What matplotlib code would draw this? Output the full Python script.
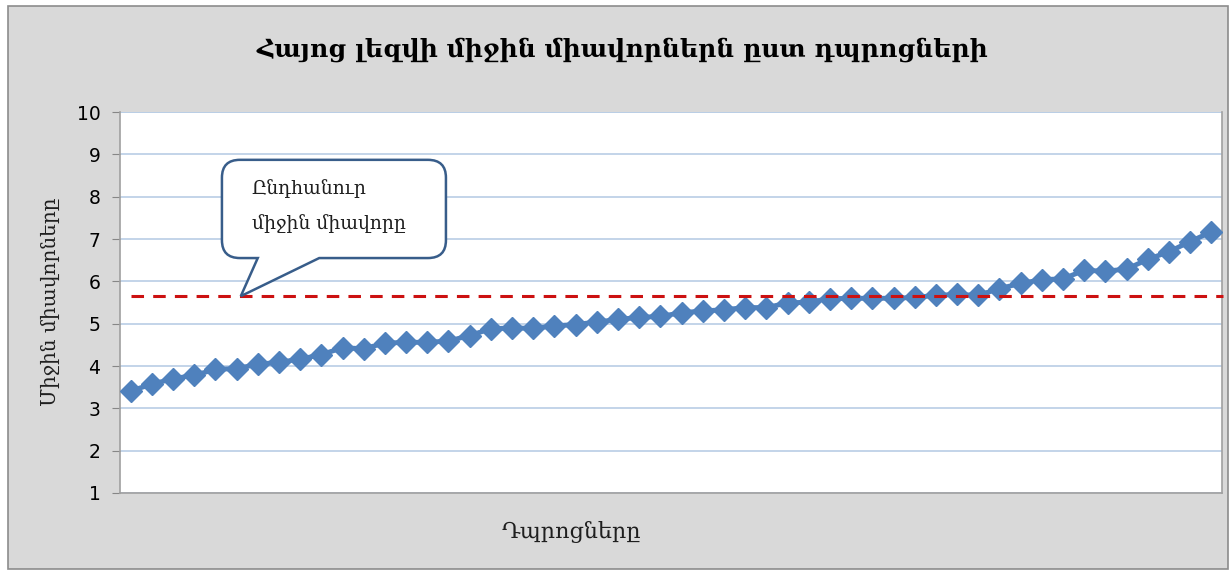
import numpy as np
import matplotlib
matplotlib.use("Agg")
import matplotlib.pyplot as plt
from matplotlib.path import Path
from matplotlib.patches import PathPatch, Rectangle

# school averages, sorted ascending
scores = [3.41, 3.57, 3.70, 3.78, 3.92, 3.94, 4.04, 4.09, 4.16, 4.27,
          4.43, 4.41, 4.54, 4.56, 4.56, 4.59, 4.72, 4.88, 4.90, 4.89,
          4.95, 4.98, 5.04, 5.10, 5.15, 5.17, 5.26, 5.30, 5.33, 5.38,
          5.38, 5.49, 5.51, 5.59, 5.60, 5.60, 5.60, 5.62, 5.67, 5.69,
          5.67, 5.83, 5.95, 6.04, 6.06, 6.26, 6.24, 6.29, 6.52, 6.70,
          6.94, 7.17]
overall_mean = 5.65
y_ticks = [1, 2, 3, 4, 5, 6, 7, 8, 9, 10]

title = "Հայոց լեզվի միջին միավորներն ըստ դպրոցների"
ylabel = "Միջին միավորները"
xlabel = "Դպրոցները"
callout = "Ընդհանուր\nմիջին միավորը"

plt.rcParams['font.family'] = ['DejaVu Serif', 'DejaVu Sans']

W, H = 1230, 574
fig = plt.figure(figsize=(W / 100, H / 100), dpi=100, facecolor="white")

# chart area background + frame
fig.patches.append(Rectangle((8 / W, 1 - 569 / H), 1220 / W, 563 / H,
                             transform=fig.transFigure, facecolor="#D9D9D9",
                             edgecolor="#8C8C8C", lw=1.2, zorder=-10))

ax = fig.add_axes([120 / W, 1 - 493 / H, 1102 / W, 381 / H])
ax.set_facecolor("white")

x = np.arange(len(scores))
ax.set_xlim(-0.5, len(scores) - 0.5)
ax.set_ylim(1, 10)
ax.set_yticks(y_ticks)
ax.set_xticks([])
ax.grid(axis="y", color="#B9CDE5", lw=1.2)
ax.set_axisbelow(True)
for s in ["left", "bottom", "right"]:
    ax.spines[s].set_color("#A0A0A0")
    ax.spines[s].set_linewidth(1.2)
ax.spines["top"].set_visible(False)
ax.axhline(10, color="#B9CDE5", lw=1.2, zorder=1)
ax.tick_params(axis="y", length=6, color="#868686", labelsize=13.5, pad=8)
for lab in ax.get_yticklabels():
    lab.set_family("DejaVu Sans")

ax.plot(x, scores, color="#4F81BD", lw=3.5, marker="D", markersize=11.5,
        markeredgecolor="#4F81BD", zorder=3)

ax.plot([0, len(scores) - 0.45], [overall_mean, overall_mean], color="#CC1111",
        lw=2.2, dashes=(4.1, 3.0), clip_on=False, zorder=4)

# speech-bubble callout pointing at the mean line
x0, x1, y0, y1 = 4.31, 14.88, 6.55, 8.87
rx, ry = 0.85, 0.42
tail_a, tail_b, tip = 6.0, 8.9, 5.2
verts = [(x0 + rx, y1), (x1 - rx, y1), (x1, y1), (x1, y1 - ry),
         (x1, y0 + ry), (x1, y0), (x1 - rx, y0),
         (tail_b, y0), (tip, overall_mean), (tail_a, y0),
         (x0 + rx, y0), (x0, y0), (x0, y0 + ry),
         (x0, y1 - ry), (x0, y1), (x0 + rx, y1), (x0 + rx, y1)]
codes = [Path.MOVETO, Path.LINETO, Path.CURVE3, Path.CURVE3,
         Path.LINETO, Path.CURVE3, Path.CURVE3,
         Path.LINETO, Path.LINETO, Path.LINETO,
         Path.LINETO, Path.CURVE3, Path.CURVE3,
         Path.LINETO, Path.CURVE3, Path.CURVE3, Path.CLOSEPOLY]
ax.add_patch(PathPatch(Path(verts, codes), facecolor="white",
                       edgecolor="#385D8A", lw=1.8, zorder=5, clip_on=False))
ax.text(x0 + 1.4, y1 - 0.45, callout, fontsize=13.5, color="#1F1F1F",
        va="top", ha="left", linespacing=2.1, zorder=6)

fig.text(622 / W, 1 - 50 / H, title, fontsize=18, fontweight="bold",
         ha="center", va="center", color="black")
fig.text(50 / W, 1 - 302 / H, ylabel, fontsize=14.5, rotation=90,
         ha="center", va="center", color="#1F1F1F")
fig.text(571 / W, 1 - 532 / H, xlabel, fontsize=16, ha="center",
         va="center", color="#1F1F1F")

fig.savefig("out.png", dpi=100, facecolor=fig.get_facecolor())
